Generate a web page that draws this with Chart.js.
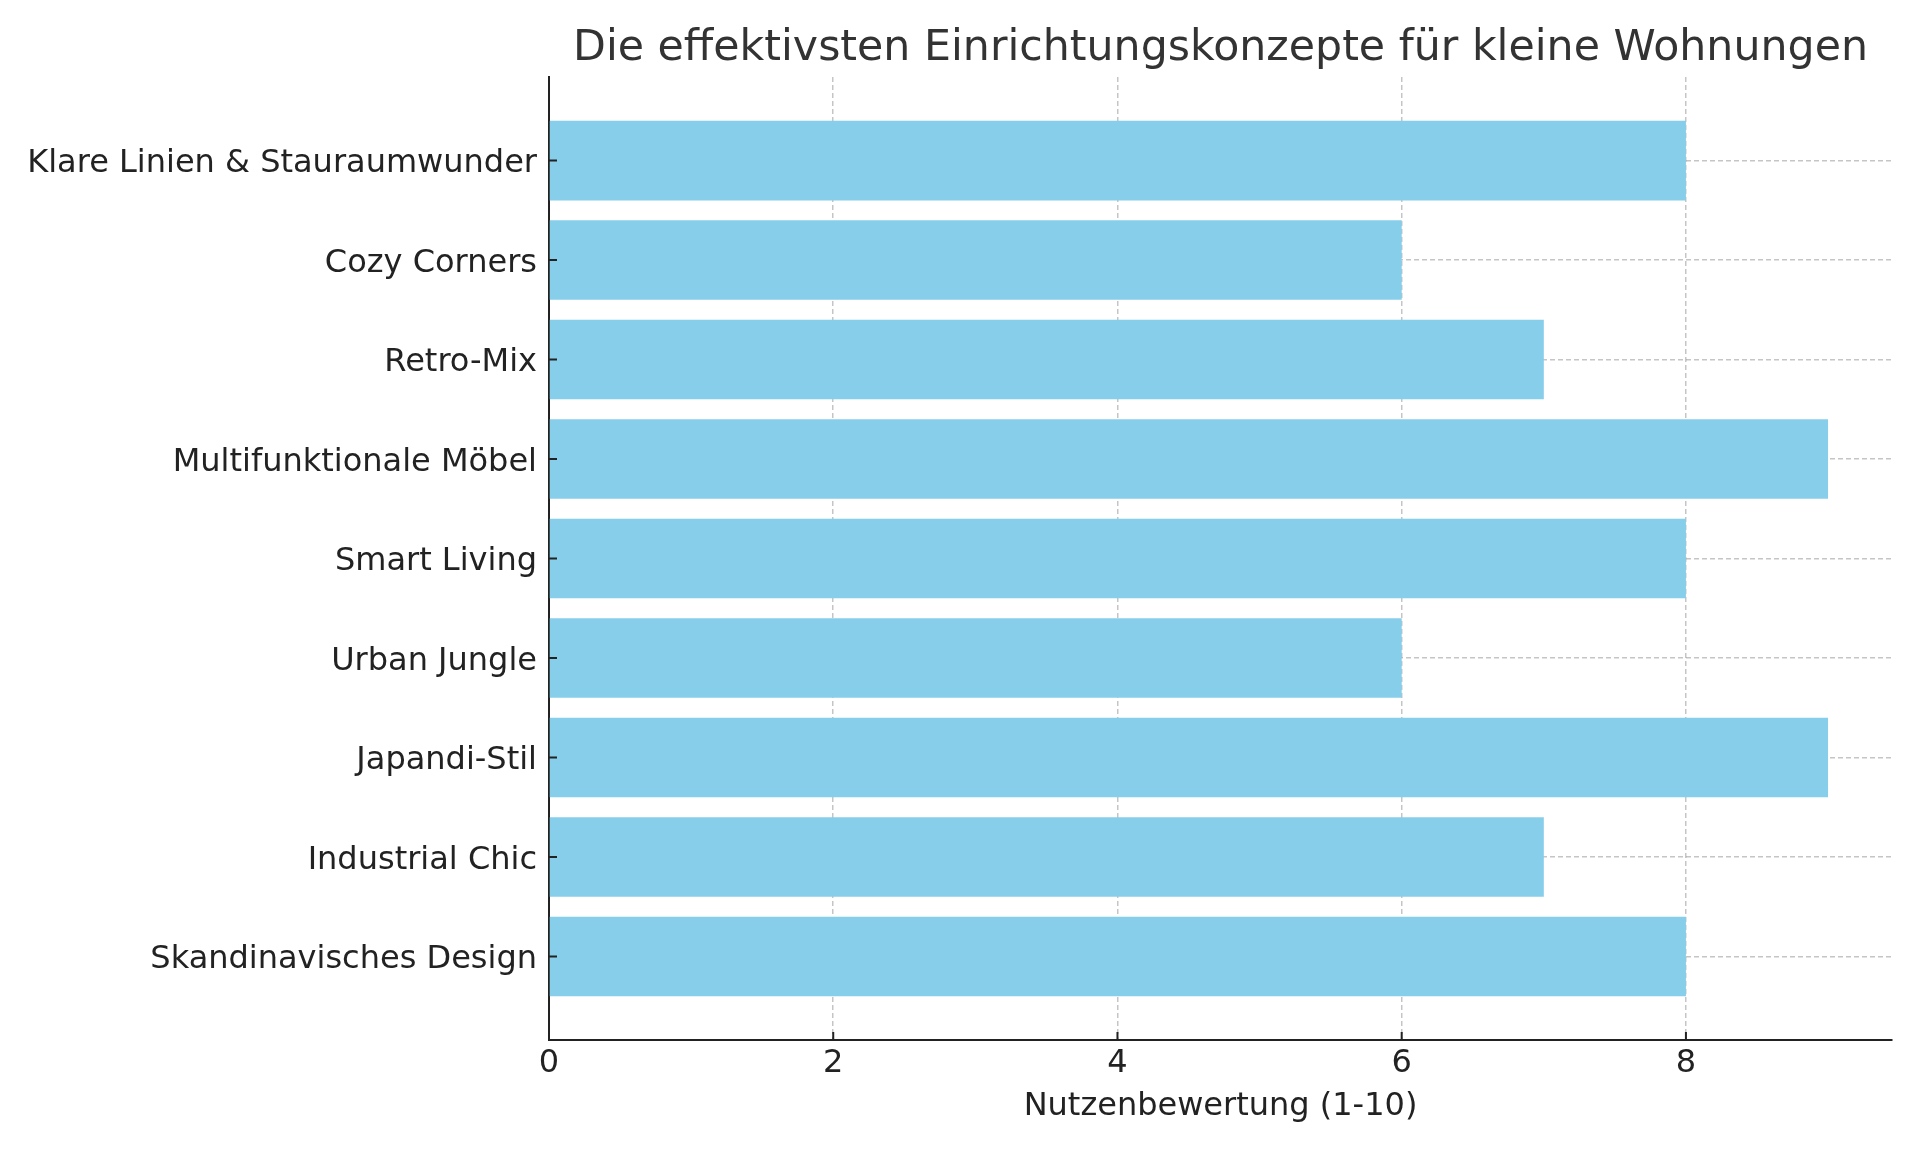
<!DOCTYPE html>
<html>
<head>
<meta charset="utf-8">
<script src="https://cdn.jsdelivr.net/npm/chart.js@4/dist/chart.umd.min.js"></script>
<style>
  html, body { margin: 0; padding: 0; background: #fff; }
  #myChart { display: block; }
</style>
</head>
<body>
<canvas id="myChart" width="1920" height="1152"></canvas>
<script>
// Kategorien von unten nach oben (wie im Original)
var konzepte = [
    "Skandinavisches Design",
    "Industrial Chic",
    "Japandi-Stil",
    "Urban Jungle",
    "Smart Living",
    "Multifunktionale Möbel",
    "Retro-Mix",
    "Cozy Corners",
    "Klare Linien & Stauraumwunder"
];
var bewertung = [8, 7, 9, 6, 8, 9, 7, 6, 8];
var xTicks = [0, 2, 4, 6, 8];

var schrift = "'DejaVu Sans', sans-serif";
var gridFarbe = "rgba(150, 150, 150, 0.55)";
var achsFarbe = "#222222";

var punkte = bewertung.map(function (v, i) {
    return { x: v, y: i };
});

// kurze Tick-Striche nach innen (wie matplotlib direction="in")
var innenTicks = {
    id: "innenTicks",
    afterDraw: function (chart) {
        var c = chart.ctx;
        var xs = chart.scales.x;
        var ys = chart.scales.y;
        var a = chart.chartArea;
        c.save();
        c.strokeStyle = achsFarbe;
        c.lineWidth = 2;
        c.beginPath();
        konzepte.forEach(function (_, i) {
            var py = ys.getPixelForValue(i);
            c.moveTo(a.left, py);
            c.lineTo(a.left + 8, py);
        });
        xTicks.forEach(function (t) {
            var px = xs.getPixelForValue(t);
            c.moveTo(px, a.bottom);
            c.lineTo(px, a.bottom - 8);
        });
        c.stroke();
        c.restore();
    }
};

var ctx = document.getElementById("myChart");
var myChart = new Chart(ctx, {
    type: "bar",
    data: {
        datasets: [
            {
                label: "Nutzenbewertung",
                data: punkte,
                backgroundColor: "#87CEEB",
                borderWidth: 0,
                barPercentage: 0.8,
                categoryPercentage: 1.0
            }
        ]
    },
    options: {
        indexAxis: "y",
        responsive: false,
        animation: false,
        layout: {
            padding: { left: 0, right: 28, top: 0, bottom: 0 }
        },
        plugins: {
            legend: { display: false },
            tooltip: { enabled: false },
            title: {
                display: true,
                fullSize: false,
                text: "Die effektivsten Einrichtungskonzepte für kleine Wohnungen",
                color: "#333333",
                font: { family: schrift, size: 42.7, weight: "normal" },
                padding: { top: 23.4, bottom: 2.4 }
            }
        },
        scales: {
            x: {
                type: "linear",
                min: 0,
                max: 9.45,
                z: 1,
                afterBuildTicks: function (scale) {
                    scale.ticks = xTicks.map(function (t) { return { value: t }; });
                },
                afterFit: function (scale) {
                    scale.height = 112;
                },
                ticks: {
                    color: achsFarbe,
                    padding: 4,
                    font: { family: schrift, size: 32 }
                },
                grid: {
                    color: gridFarbe,
                    lineWidth: 1.5,
                    drawTicks: false
                },
                border: {
                    color: achsFarbe,
                    width: 2,
                    dash: [5, 3]
                },
                title: {
                    display: true,
                    text: "Nutzenbewertung (1-10)",
                    color: achsFarbe,
                    font: { family: schrift, size: 32 },
                    padding: { top: 0, bottom: 26.3 }
                }
            },
            y: {
                type: "linear",
                min: -0.84,
                max: 8.84,
                offset: false,
                z: 1,
                afterBuildTicks: function (scale) {
                    scale.ticks = konzepte.map(function (_, i) { return { value: i }; });
                },
                afterFit: function (scale) {
                    scale.width = 549;
                },
                ticks: {
                    color: achsFarbe,
                    padding: 12,
                    labelOffset: 3.5,
                    font: { family: schrift, size: 32 },
                    callback: function (v) {
                        return konzepte[v];
                    }
                },
                grid: {
                    color: gridFarbe,
                    lineWidth: 1.5,
                    drawTicks: false,
                    offset: false
                },
                border: {
                    color: achsFarbe,
                    width: 2,
                    dash: [5, 3]
                }
            }
        }
    },
    plugins: [innenTicks]
});
</script>
</body>
</html>
